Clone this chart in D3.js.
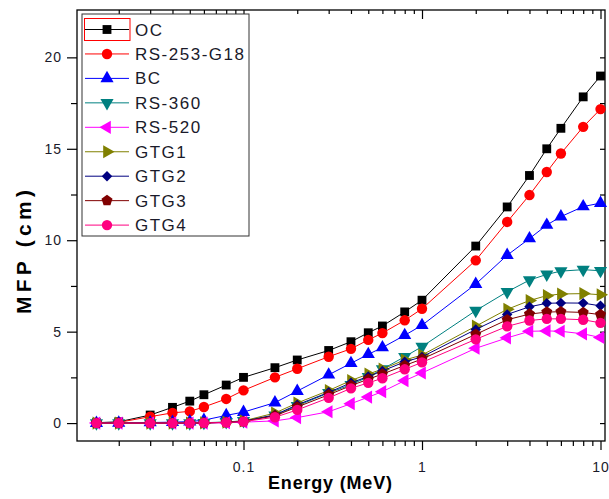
<!DOCTYPE html>
<html>
<head>
<meta charset="utf-8">
<script src="https://cdn.jsdelivr.net/npm/d3@7"></script>
<style>
  html, body { margin: 0; padding: 0; background: #fff; }
  svg { display: block; font-family: "Liberation Sans", Arial, sans-serif; }
</style>
</head>
<body>
<svg id="chart" width="609" height="499"></svg>
<script>
// ---- data ----
const energy = [0.015,0.02,0.03,0.04,0.05,0.06,0.08,0.1,0.15,0.2,0.3,0.4,0.5,0.6,0.8,1,2,3,4,5,6,8,10];
const OC     = [0.02,0.07,0.44,0.86,1.2,1.55,2.08,2.5,3.03,3.45,3.97,4.45,4.94,5.31,6.08,6.72,9.68,11.82,13.54,15.0,16.12,17.84,18.98];
const RS253  = [0.01,0.04,0.35,0.56,0.64,0.88,1.32,1.79,2.5,2.97,3.63,4.06,4.55,4.92,5.62,6.25,8.9,11.0,12.47,13.73,14.74,16.2,17.17];
const BC     = [0,0.01,0.03,0.05,0.08,0.16,0.42,0.6,1.12,1.75,2.64,3.27,3.76,4.13,4.8,5.35,7.6,9.18,10.09,10.83,11.29,11.84,12.03];
const RS360  = [0,0,0,0,0,0.02,0.06,0.12,0.42,0.95,1.65,2.1,2.53,2.95,3.63,4.18,6.15,7.18,7.82,8.13,8.31,8.39,8.33];
const RS520  = [0,0,0,0,0,0,0.02,0.05,0.12,0.3,0.62,1.06,1.42,1.72,2.32,2.74,4.09,4.66,5.02,5.04,5.02,4.88,4.68];
const GTG1   = [0,0,0,0,0,0.01,0.05,0.12,0.55,1.1,1.78,2.33,2.68,2.95,3.45,3.72,5.3,6.22,6.7,6.97,7.06,7.08,7.02];
const GTG2   = [0,0,0,0,0,0.01,0.04,0.1,0.45,1.0,1.68,2.2,2.55,2.85,3.35,3.62,5.12,5.94,6.36,6.55,6.57,6.56,6.41];
const GTG3   = [0,0,0,0,0,0.01,0.04,0.09,0.4,0.88,1.55,2.05,2.4,2.68,3.15,3.5,4.85,5.65,5.96,6.07,6.09,6.05,5.93];
const GTG4   = [0,0,0,0,0,0.01,0.03,0.08,0.32,0.72,1.38,1.9,2.2,2.45,2.94,3.32,4.58,5.29,5.61,5.7,5.7,5.65,5.48];

const seriesNames = ["OC","RS-253-G18","BC","RS-360","RS-520","GTG1","GTG2","GTG3","GTG4"];
const seriesValues = [OC,RS253,BC,RS360,RS520,GTG1,GTG2,GTG3,GTG4];

const xMajorTicks = [0.1, 1, 10];
const xTickLabels = ["0.1", "1", "10"];
const yMajorTicks = [0, 5, 10, 15, 20];
const yMinorTicks = [2.5, 7.5, 12.5, 17.5];

// ---- styles ----
const colors = ["#000000","#ff0000","#0000ff","#008080","#ff00ff","#808000","#000080","#800000","#ff0080"];

const pentagon = {
  draw(ctx, size) {
    const r = Math.sqrt(size / 2.378);
    for (let i = 0; i < 5; i++) {
      const a = -Math.PI / 2 + i * 2 * Math.PI / 5;
      const px = r * Math.cos(a), py = r * Math.sin(a);
      if (i === 0) ctx.moveTo(px, py); else ctx.lineTo(px, py);
    }
    ctx.closePath();
  }
};
// [type, size, rotation]
const markers = [
  [d3.symbolSquare, 78, 0],
  [d3.symbolCircle, 85, 0],
  [d3.symbolTriangle, 75, 0],
  [d3.symbolTriangle, 75, 180],
  [d3.symbolTriangle, 75, -90],
  [d3.symbolTriangle, 75, 90],
  [d3.symbolSquare, 55, 45],
  [pentagon, 80, 0],
  [d3.symbolCircle, 85, 0]
];

// ---- layout ----
const L = 77, R = 605, T = 10, B = 441;
const x = d3.scaleLog().domain([0.011672, 10.598]).range([L, R]);
const y = d3.scaleLinear().domain([-0.98, 22.59]).range([B, T]);

const svg = d3.select("#chart");

// minor x ticks
const xMinor = [];
[0.01, 0.1, 1].forEach(d => { for (let k = 2; k <= 9; k++) { const v = d * k; if (v > 0.0117 && v < 10.6) xMinor.push(+v.toFixed(4)); } });

// bottom axis
svg.append("g").attr("transform", `translate(0,${B})`)
  .call(d3.axisBottom(x).tickValues(xMinor).tickSize(5).tickFormat(""));
svg.append("g").attr("transform", `translate(0,${B})`)
  .call(d3.axisBottom(x).tickValues(xMajorTicks).tickSize(9).tickPadding(12)
  .tickFormat((d, i) => xTickLabels[i]));
// top axis (inward)
svg.append("g").attr("transform", `translate(0,${T})`)
  .call(d3.axisBottom(x).tickValues(xMinor).tickSize(4).tickFormat(""));
svg.append("g").attr("transform", `translate(0,${T})`)
  .call(d3.axisBottom(x).tickValues(xMajorTicks).tickSize(9).tickFormat(""));
// left axis
svg.append("g").attr("transform", `translate(${L},0)`)
  .call(d3.axisLeft(y).tickValues(yMinorTicks).tickSize(6).tickFormat(""));
svg.append("g").attr("transform", `translate(${L},0)`)
  .call(d3.axisLeft(y).tickValues(yMajorTicks).tickSize(10).tickPadding(5).tickFormat(d3.format("d")));
// right axis (inward)
svg.append("g").attr("transform", `translate(${R},0)`)
  .call(d3.axisLeft(y).tickValues(yMinorTicks.concat(yMajorTicks)).tickSize(5).tickFormat(""));

svg.selectAll(".domain").remove();
svg.selectAll(".tick line").attr("stroke", "#000").attr("stroke-width", 1.2);
svg.selectAll(".tick text").attr("fill", "#1a1a2a").attr("font-size", 14)
  .attr("letter-spacing", 1).attr("font-family", "Liberation Sans, Arial, sans-serif");

// frame
svg.append("rect").attr("x", L).attr("y", T).attr("width", R - L).attr("height", B - T)
  .attr("fill", "none").attr("stroke", "#000").attr("stroke-width", 1.3);

// series
const line = d3.line().x(d => x(d[0])).y(d => y(d[1]));
seriesValues.forEach((vals, i) => {
  const pts = energy.map((e, j) => [e, vals[j]]);
  const g = svg.append("g");
  g.append("path").attr("d", line(pts)).attr("fill", "none")
    .attr("stroke", colors[i]).attr("stroke-width", 1);
  const [type, size, rot] = markers[i];
  const sym = d3.symbol().type(type).size(size);
  g.selectAll("path.m").data(pts).enter().append("path").attr("class", "m")
    .attr("d", sym)
    .attr("transform", d => `translate(${x(d[0])},${y(d[1])}) rotate(${rot})`)
    .attr("fill", colors[i]);
});

// legend
const lg = svg.append("g");
lg.append("rect").attr("x", 82).attr("y", 14).attr("width", 167).attr("height", 222)
  .attr("fill", "#fff").attr("stroke", "#333").attr("stroke-width", 1);
seriesNames.forEach((name, i) => {
  const cy = 29.5 + i * 24.45;
  lg.append("line").attr("x1", 85).attr("x2", 129).attr("y1", cy).attr("y2", cy)
    .attr("stroke", colors[i]).attr("stroke-width", 1);
  const [type, size, rot] = markers[i];
  lg.append("path").attr("d", d3.symbol().type(type).size(size)())
    .attr("transform", `translate(107,${cy}) rotate(${rot})`).attr("fill", colors[i]);
  lg.append("text").attr("x", 135).attr("y", cy + 6).text(name)
    .attr("font-size", 17).attr("letter-spacing", 1.5).attr("fill", "#1a1a2a");
});
lg.append("rect").attr("x", 84.5).attr("y", 18.5).attr("width", 45.5).attr("height", 22)
  .attr("fill", "none").attr("stroke", "#ff0000").attr("stroke-width", 1);

// axis titles
svg.append("text").attr("x", 330).attr("y", 489).attr("text-anchor", "middle")
  .attr("font-size", 18).attr("font-weight", "bold").attr("fill", "#000")
  .attr("textLength", 124).attr("lengthAdjust", "spacing").text("Energy (MeV)");
svg.append("text").attr("transform", "translate(31,252) rotate(-90)").attr("text-anchor", "middle")
  .attr("font-size", 21).attr("font-weight", "bold").attr("fill", "#000")
  .attr("textLength", 124).attr("lengthAdjust", "spacing").text("MFP (cm)");
</script>
</body>
</html>
